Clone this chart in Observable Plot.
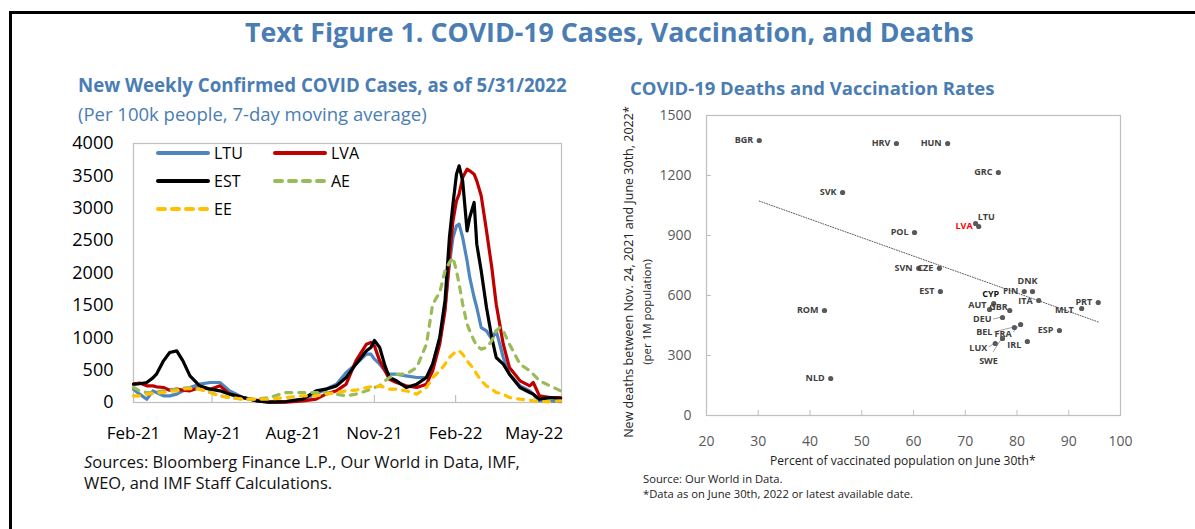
<!DOCTYPE html>
<html>
<head>
<meta charset="utf-8">
<script src="https://cdn.jsdelivr.net/npm/d3@7"></script>
<script src="https://cdn.jsdelivr.net/npm/@observablehq/plot@0.6"></script>
<style>
  body { margin: 0; background: #fff; }
  #root { position: relative; width: 1195px; height: 529px; overflow: hidden; font-family: "Open Sans", sans-serif; background: #fff; }
  .abs { position: absolute; white-space: nowrap; line-height: 1; }
  #border { position: absolute; left: 9px; top: 11px; width: 1300px; height: 700px; border-left: 3px solid #000; border-top: 3px solid #000; }
</style>
</head>
<body>
<div id="root"><div id="border"></div></div>
<script>
// ---------------- DATA: left chart (weekly cases per 100k, 7-day MA) ----------------
const dates = [
  "2021-02-01","2021-02-08","2021-02-16","2021-02-23","2021-02-27","2021-03-07","2021-03-14","2021-03-22","2021-03-29","2021-04-06",
  "2021-04-17","2021-04-29","2021-05-10","2021-05-21","2021-06-05","2021-06-20","2021-07-05","2021-07-24","2021-08-12","2021-08-27",
  "2021-09-07","2021-09-19","2021-09-30","2021-10-11","2021-10-23","2021-10-28","2021-11-01","2021-11-07","2021-11-13","2021-11-18",
  "2021-11-26","2021-12-07","2021-12-19","2021-12-30","2022-01-06","2022-01-14","2022-01-20","2022-01-25","2022-01-29","2022-02-02",
  "2022-02-05","2022-02-09","2022-02-14","2022-02-17","2022-02-22","2022-02-25","2022-03-02","2022-03-08","2022-03-14","2022-03-19",
  "2022-03-23","2022-03-27","2022-04-03","2022-04-15","2022-04-26","2022-04-30","2022-05-07","2022-05-19","2022-05-31"
];
const LTU = [206,129,51,180,154,103,103,129,180,232, 283,309,309,180,77,26,5,15,51,129, 206,283,463,592,746,746,669,592,489,437,
             437,412,386,386,592,952,1467,2136,2548,2728, 2754,2548,2188,1931,1622,1467,1158,1107,978,1107, 901,695,437,257,180,129,26,26,15];
const LVA = [283,300,257,257,242,232,190,206,190,180, 232,206,257,129,77,36,5,5,26,51, 129,180,283,643,901,927,875,643,489,360,
             309,257,232,283,489,901,1416,2239,2805,3115, 3217,3475,3604,3578,3526,3423,3192,2651,2085,1518, 1210,901,541,335,257,309,103,77,77];
const EST = [283,290,309,380,437,643,772,798,643,412, 257,206,180,129,77,26,5,15,51,180, 206,257,386,592,798,849,960,849,566,386,
             335,232,283,386,592,1004,1570,2548,3063,3526, 3655,3423,2651,2857,3089,2445,2033,1467,1004,695, 643,592,437,232,154,129,51,77,60];
const AE  = [232,180,154,154,165,180,190,206,221,232, 206,154,103,77,51,51,77,154,154,154, 154,129,103,129,180,206,232,257,335,386,
             437,437,541,901,1519,1699,2033,2162,2239,2033, 1828,1519,1210,1107,952,875,824,849,952,1107, 1158,1107,901,592,489,437,335,257,180];
const EE  = [103,103,129,139,144,154,170,180,206,216, 206,154,103,77,51,51,51,77,103,103, 129,154,180,190,232,242,232,257,232,206,
             206,180,129,232,386,489,592,695,746,798, 798,746,643,592,515,437,335,257,206,154, 144,129,77,51,36,26,15,15,26];
const seriesNames = ["LTU","LVA","EST","AE","EE"];
const seriesValues = [LTU, LVA, EST, AE, EE];
const xTickDates = ["2021-02-01","2021-05-01","2021-08-01","2021-11-01","2022-02-01","2022-05-01"];
const yTicksLeft = [0,500,1000,1500,2000,2500,3000,3500,4000];

// ---------------- DATA: right chart (deaths vs vaccination) ----------------
const countries  = ["BGR","HRV","HUN","GRC","SVK","LTU","LVA","POL","SVN","CZE","EST","DNK","FIN","ITA","CYP","AUT","GBR","DEU","BEL","FRA","IRL","LUX","SWE","ESP","MLT","PRT","ROM","NLD"];
const vaccinated = [30.2,56.7,66.6,76.4,46.3,72.6,72.0,60.2,61.0,65.0,65.2,83.0,81.4,84.2,75.5,74.7,78.6,77.2,79.5,80.7,82.0,75.8,77.2,88.2,92.5,95.7,42.8,44.0];
const deaths     = [1375,1360,1360,1215,1115,945,960,915,736,736,620,620,620,575,560,530,525,490,440,455,370,360,385,425,535,565,525,185];
const xTicksRight = [20,30,40,50,60,70,80,90,100];
const yTicksRight = [0,300,600,900,1200,1500];

// ---------------- STYLE config (not data) ----------------
const seriesStyle = {
  LTU: {stroke: "#4f86bd", dash: null},
  LVA: {stroke: "#c00000", dash: null},
  EST: {stroke: "#000000", dash: null},
  AE:  {stroke: "#9bbb59", dash: "6,7"},
  EE:  {stroke: "#ffc000", dash: "6,7"}
};
// label placement: [textAnchor, dx, dy, leader start offset or null]
const labelPlacement = {
  LTU: ["start", -1, -9], LVA: ["end", -3, 3], DNK: ["middle", -5, -10], CYP: ["middle", -3, -9],
  AUT: ["end", -3, -4], GBR: ["end", -2, -3], DEU: ["end", -11, 2, [-9, 2]], BEL: ["end", -22, 5, [-20, 5]],
  FRA: ["end", -9, 10, [-7, 8]], LUX: ["end", -8, 5, [-6, 4]], SWE: ["middle", -14, 23, [-9, 14]],
  MLT: ["end", -8, 2], ITA: ["end", -6, 1], IRL: ["end", -6, 4]
};
const labelColor = {LVA: "#ff0000", CYP: "#111111"};
const titleColor = "#4a7db3";

const root = document.getElementById("root");

function placeText(txt, o) {
  const el = document.createElement("div");
  el.className = "abs";
  el.style.fontWeight = o.weight || 400;
  el.style.color = o.color || "#000";
  el.style.fontSize = "20px";
  if (o.html) el.innerHTML = txt; else el.textContent = txt;
  root.appendChild(el);
  let s = o.size;
  if (!s) { const w = el.offsetWidth; s = 20 * o.width / w; }
  el.style.fontSize = s + "px";
  if (o.rotate) {
    el.style.left = o.cx + "px";
    el.style.top = o.cy + "px";
    el.style.transform = "translate(-50%,-50%) rotate(-90deg)";
  } else {
    el.style.left = o.x0 + "px";
    el.style.top = (o.cy - 0.53 * s) + "px";
  }
  return s;
}

// Titles and notes
placeText("Text Figure 1. COVID-19 Cases, Vaccination, and Deaths", {x0: 245, width: 730, cy: 33, weight: 700, color: titleColor});
placeText("New Weekly Confirmed COVID Cases, as of 5/31/2022", {x0: 78, width: 489, cy: 86, weight: 700, color: titleColor});
placeText("(Per 100k people, 7-day moving average)", {x0: 78, width: 349, cy: 115, color: titleColor});
placeText("COVID-19 Deaths and Vaccination Rates", {x0: 630, width: 365, cy: 89, weight: 700, color: titleColor});
placeText("<i>S</i>ources: Bloomberg Finance L.P., Our World in Data, IMF,", {x0: 84, width: 436, cy: 463, html: true, color: "#111"});
placeText("WEO, and IMF Staff Calculations.", {x0: 84, width: 248, cy: 484, color: "#111"});
placeText("Percent of vaccinated population on June 30th*", {x0: 770, width: 266, cy: 461, color: "#222"});
const noteSize = placeText("*Data as on June 30th, 2022 or latest available date.", {x0: 643, width: 270, cy: 494, color: "#222"});
placeText("Source: Our World in Data.", {x0: 643, size: noteSize, cy: 479, color: "#222"});
placeText("New deaths between Nov. 24, 2021 and June 30th, 2022*", {rotate: true, cx: 629, cy: 272, width: 332, color: "#222"});
placeText("(per 1M population)", {rotate: true, cx: 647, cy: 312, width: 106, color: "#222"});

// ---------------- LEFT CHART ----------------
const long = [];
seriesNames.forEach((name, i) => seriesValues[i].forEach((v, j) => long.push({date: new Date(dates[j]), value: v, series: name})));
const xTicks = xTickDates.map(d => new Date(d));

const left = Plot.plot({
  width: 510, height: 320,
  marginLeft: 73, marginRight: 9, marginTop: 13, marginBottom: 48,
  x: {type: "utc", domain: [new Date("2021-02-01"), new Date("2022-06-01")]},
  y: {domain: [0, 4000]},
  style: {fontFamily: "Open Sans", fontSize: "17px", color: "#000", background: "transparent", overflow: "visible"},
  marks: [
    Plot.frame({stroke: "#bfbfbf", strokeWidth: 1.2}),
    Plot.tickX(xTicks, {x: d => d, stroke: "#bfbfbf", strokeWidth: 1.2, insetTop: 252}),
    ...seriesNames.map(name => Plot.line(long.filter(d => d.series === name), {
      x: "date", y: "value",
      stroke: seriesStyle[name].stroke, strokeWidth: 3.2,
      strokeDasharray: seriesStyle[name].dash, strokeLinecap: "round", strokeLinejoin: "round"
    })),
    Plot.axisX({ticks: xTicks, tickFormat: d3.utcFormat("%b-%y"), tickSize: 0, tickPadding: 24, label: null, fill: "#000"}),
    Plot.axisY({ticks: yTicksLeft, tickFormat: d => String(d), tickSize: 0, tickPadding: 20, label: null, fill: "#000", fontSize: 18})
  ]
});
left.style.position = "absolute";
left.style.left = "60px";
left.style.top = "130px";
root.appendChild(left);

// legend (HTML/SVG overlay)
const legendItems = [
  {name: "LTU", x: 158, y: 153}, {name: "LVA", x: 275, y: 153},
  {name: "EST", x: 158, y: 181}, {name: "AE", x: 275, y: 181},
  {name: "EE", x: 158, y: 209}
];
const lg = d3.create("svg").attr("width", 1195).attr("height", 529)
  .style("position", "absolute").style("left", "0px").style("top", "0px").style("pointer-events", "none");
legendItems.forEach(it => {
  const st = seriesStyle[it.name];
  lg.append("line").attr("x1", it.x).attr("x2", it.x + 50).attr("y1", it.y).attr("y2", it.y)
    .attr("stroke", st.stroke).attr("stroke-width", 4).attr("stroke-linecap", "round")
    .attr("stroke-dasharray", st.dash ? "7,7" : null);
  lg.append("text").attr("x", it.x + 56).attr("y", it.y).attr("dy", "0.36em")
    .attr("font-family", "Open Sans").attr("font-size", 16).attr("fill", "#000").text(it.name);
});
root.appendChild(lg.node());

// ---------------- RIGHT CHART ----------------
const pts = countries.map((c, i) => ({c, v: vaccinated[i], d: deaths[i]}));

const leaders = (index, scales) => {
  const g = d3.create("svg:g");
  pts.forEach(p => {
    const pl = labelPlacement[p.c];
    if (!pl || !pl[3]) return;
    const px = scales.x(p.v), py = scales.y(p.d);
    g.append("line").attr("x1", px + pl[3][0]).attr("y1", py + pl[3][1]).attr("x2", px).attr("y2", py)
      .attr("stroke", "#8c8c8c").attr("stroke-width", 0.8);
  });
  return g.node();
};

const right = Plot.plot({
  width: 540, height: 380,
  marginLeft: 106, marginRight: 20, marginTop: 15, marginBottom: 65,
  x: {domain: [20, 100]},
  y: {domain: [0, 1500]},
  style: {fontFamily: "Open Sans", fontSize: "14px", color: "#595959", background: "transparent", overflow: "visible"},
  marks: [
    Plot.frame({stroke: "#bfbfbf", strokeWidth: 1.2}),
    Plot.tickX(xTicksRight, {x: d => d, stroke: "#bfbfbf", insetTop: 295}),
    Plot.tickY(yTicksRight, {y: d => d, stroke: "#bfbfbf", insetRight: 409}),
    Plot.linearRegressionY(pts, {x: "v", y: "d", stroke: "#595959", strokeWidth: 1, strokeDasharray: "1,1.6", ci: 0}),
    leaders,
    Plot.dot(pts, {x: "v", y: "d", r: 2.6, fill: "#595959", stroke: "none"}),
    ...pts.map(p => {
      const pl = labelPlacement[p.c] || ["end", -6, 0];
      return Plot.text([p], {x: "v", y: "d", text: "c", textAnchor: pl[0], dx: pl[1], dy: pl[2],
        fill: labelColor[p.c] || "#404040", fontWeight: "bold", fontSize: 9});
    }),
    Plot.axisX({ticks: xTicksRight, tickSize: 0, tickPadding: 21, label: null, fill: "#595959"}),
    Plot.axisY({ticks: yTicksRight, tickFormat: d => String(d), tickSize: 0, tickPadding: 15, label: null, fill: "#595959"})
  ]
});
right.style.position = "absolute";
right.style.left = "600px";
right.style.top = "100px";
root.appendChild(right);
</script>
</body>
</html>
